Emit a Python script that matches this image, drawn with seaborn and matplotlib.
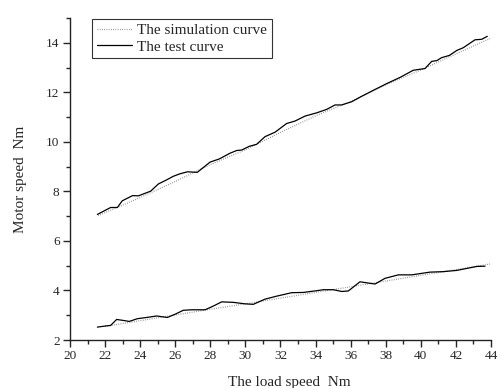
import matplotlib
matplotlib.use("Agg")
import matplotlib.pyplot as plt
import seaborn as sns
import pandas as pd
from matplotlib.ticker import MultipleLocator

# Upper pair of curves (high speed branch)
test_hi_x = [21.56, 22.32, 22.70, 22.98, 23.57, 23.90, 24.60, 25.04, 25.47, 25.89,
             26.27, 26.69, 27.26, 27.98, 28.51, 29.12, 29.50, 29.79, 30.22, 30.64,
             31.12, 31.69, 32.35, 32.83, 33.40, 34.06, 34.63, 35.11, 35.49, 36.06,
             36.63, 37.29, 38.05, 38.81, 39.57, 40.24, 40.62, 40.91, 41.19, 41.63,
             42.05, 42.42, 43.09, 43.47, 43.79]
test_hi_y = [7.07, 7.35, 7.35, 7.62, 7.83, 7.82, 8.01, 8.30, 8.45, 8.61,
             8.71, 8.79, 8.77, 9.18, 9.31, 9.54, 9.65, 9.67, 9.82, 9.90,
             10.21, 10.39, 10.74, 10.84, 11.04, 11.17, 11.31, 11.49, 11.49, 11.62,
             11.84, 12.08, 12.35, 12.60, 12.89, 12.96, 13.25, 13.28, 13.40, 13.49,
             13.69, 13.80, 14.12, 14.14, 14.26]
sim_hi_x = [21.6, 24.0, 26.0, 28.0, 30.0, 32.0, 34.0, 36.0, 38.0, 40.0, 42.0, 43.95]
sim_hi_y = [7.02, 7.75, 8.40, 9.08, 9.68, 10.38, 11.05, 11.63, 12.30, 12.90, 13.55, 14.17]

# Lower pair of curves (low speed branch)
test_lo_x = [21.56, 21.96, 22.32, 22.66, 23.04, 23.38, 23.84, 24.37, 24.94, 25.55,
             25.99, 26.46, 26.94, 27.70, 28.17, 28.65, 29.31, 29.98, 30.45, 31.12,
             31.78, 32.64, 33.30, 34.06, 34.44, 35.01, 35.49, 35.87, 36.53, 37.39,
             37.96, 38.72, 39.48, 40.52, 41.28, 42.05, 42.62, 43.19, 43.66]
test_lo_y = [2.52, 2.56, 2.59, 2.83, 2.79, 2.75, 2.86, 2.91, 2.97, 2.91,
             3.04, 3.20, 3.22, 3.22, 3.37, 3.54, 3.52, 3.46, 3.44, 3.65,
             3.77, 3.91, 3.92, 3.99, 4.03, 4.03, 3.96, 3.98, 4.35, 4.26,
             4.49, 4.63, 4.63, 4.74, 4.76, 4.81, 4.89, 4.97, 4.98]
sim_lo_x = [22.0, 24.0, 26.0, 28.0, 30.0, 32.0, 34.0, 36.0, 38.0, 40.0, 42.0, 43.95]
sim_lo_y = [2.55, 2.78, 3.01, 3.24, 3.46, 3.69, 3.92, 4.15, 4.38, 4.61, 4.84, 5.07]

sns.set_style("ticks")
plt.rcParams["font.family"] = ["Liberation Serif", "DejaVu Serif"]
plt.rcParams["font.size"] = 9.5

fig = plt.figure(figsize=(5.01, 3.88), dpi=100)
ax = fig.add_axes([0.1397, 0.1237, 0.8403, 0.8299])

sim = pd.concat([
    pd.DataFrame({"x": sim_hi_x, "y": sim_hi_y, "branch": "hi"}),
    pd.DataFrame({"x": sim_lo_x, "y": sim_lo_y, "branch": "lo"}),
], ignore_index=True)
test = pd.concat([
    pd.DataFrame({"x": test_hi_x, "y": test_hi_y, "branch": "hi"}),
    pd.DataFrame({"x": test_lo_x, "y": test_lo_y, "branch": "lo"}),
], ignore_index=True)

for br, g in sim.groupby("branch"):
    sns.lineplot(data=g, x="x", y="y", ax=ax, color="#808080", lw=0.9,
                 linestyle=(0, (0.6, 1.2)), sort=False, estimator=None,
                 label="The simulation curve" if br == "hi" else None)
for br, g in test.groupby("branch"):
    sns.lineplot(data=g, x="x", y="y", ax=ax, color="black", lw=0.9,
                 sort=False, estimator=None,
                 label="The test curve" if br == "hi" else None)

ax.set_xlim(20, 44)
ax.set_ylim(2, 15)
ax.xaxis.set_major_locator(MultipleLocator(2))
ax.xaxis.set_minor_locator(MultipleLocator(1))
ax.yaxis.set_major_locator(MultipleLocator(2))
ax.yaxis.set_minor_locator(MultipleLocator(1))
ax.tick_params(which="major", direction="out", length=5, width=1.0, labelsize=9.5, pad=2.5)
ax.tick_params(which="minor", direction="out", length=3, width=1.0)
sns.despine(ax=ax)
for s in ("left", "bottom"):
    ax.spines[s].set_linewidth(1.0)
    ax.spines[s].set_color("#222222")

ax.set_xlabel("The load speed  Nm", fontsize=11)
ax.xaxis.set_label_coords(0.522, -0.112)
ax.xaxis.label.set_va("top")
ax.set_ylabel("Motor speed  Nm", fontsize=11, labelpad=14)

leg = ax.legend(loc="upper left", bbox_to_anchor=(0.053, 0.998), frameon=True,
                fancybox=False, edgecolor="black", fontsize=11,
                handlelength=2.3, handletextpad=0.35, borderpad=0.3,
                labelspacing=0.2, borderaxespad=0)
leg.get_frame().set_linewidth(0.8)

fig.savefig("out.png", dpi=100)
